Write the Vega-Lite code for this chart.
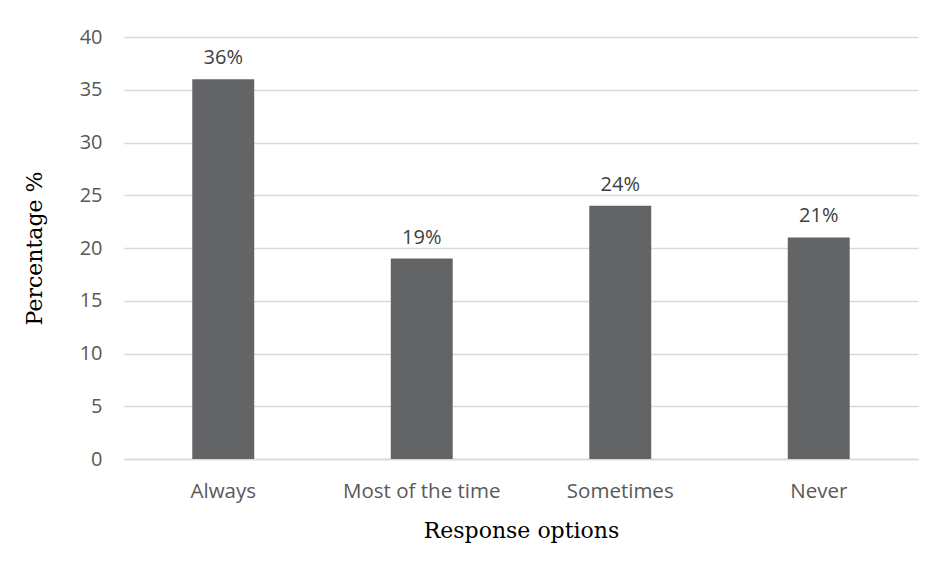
{
  "$schema": "https://vega.github.io/schema/vega-lite/v6.json",
  "autosize": "none",
  "width": 794,
  "height": 422,
  "padding": {"left": 124, "top": 37, "right": 15, "bottom": 108},
  "background": "white",
  "config": {"view": {"stroke": null}},
  "data": {"values": [
    {"option": "Always", "pct": 36, "label": "36%"},
    {"option": "Most of the time", "pct": 19, "label": "19%"},
    {"option": "Sometimes", "pct": 24, "label": "24%"},
    {"option": "Never", "pct": 21, "label": "21%"}
  ]},
  "encoding": {
    "x": {"field": "option", "type": "nominal", "sort": null,
      "scale": {"paddingInner": 0.688, "paddingOuter": 0.344},
      "axis": {"title": "Response options", "labelAngle": 0, "labelFont": "Open Sans", "labelFontSize": 20.5, "labelColor": "#595959",
        "labelPadding": 22, "ticks": false, "domain": true, "domainColor": "#d9d9d9", "domainWidth": 1.5,
        "titleFont": "DejaVu Serif", "titleFontSize": 22, "titleFontWeight": "normal", "titleColor": "#000000", "titlePadding": 19}},
    "y": {"field": "pct", "type": "quantitative",
      "scale": {"domain": [0, 40]},
      "axis": {"title": "Percentage %", "values": [0,5,10,15,20,25,30,35,40], "labelFont": "Open Sans", "labelFontSize": 20, "labelColor": "#595959",
        "labelPadding": 22, "ticks": false, "domain": false, "gridColor": "#d9d9d9", "gridWidth": 1.5,
        "titleFont": "DejaVu Serif", "titleFontSize": 22, "titleFontWeight": "normal", "titleColor": "#000000", "titlePadding": 33}}
  },
  "layer": [
    {"mark": {"type": "bar", "color": "#636466"}},
    {"mark": {"type": "text", "font": "Open Sans", "fontSize": 20, "color": "#404040", "baseline": "alphabetic", "dy": -15},
      "encoding": {"text": {"field": "label"}}}
  ]
}
